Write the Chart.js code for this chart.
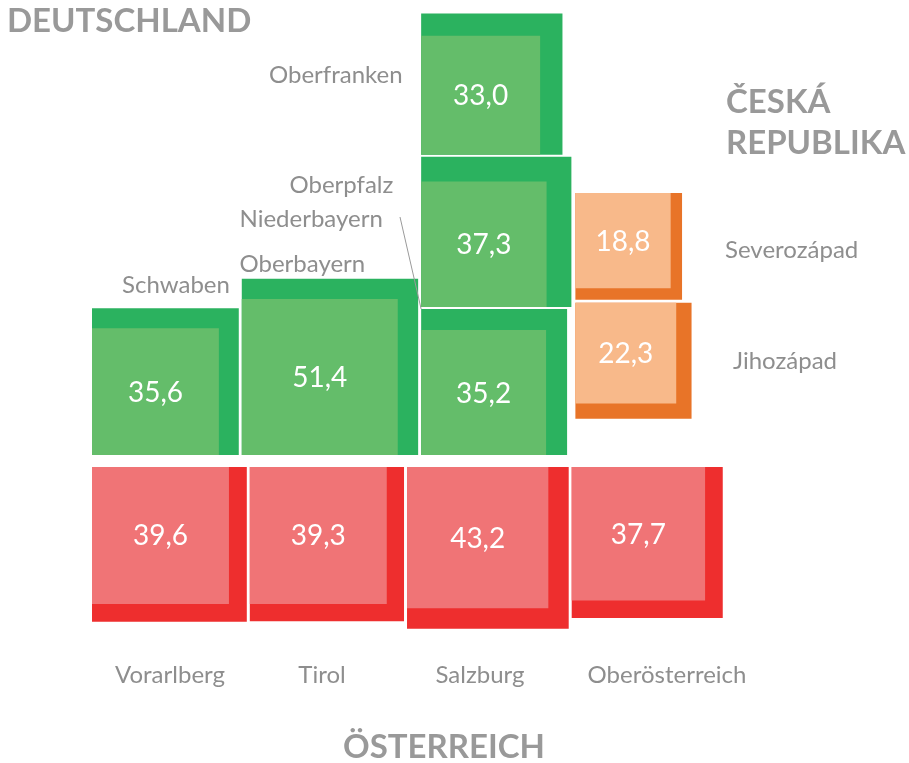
<!DOCTYPE html>
<html>
<head>
<meta charset="utf-8">
<script src="https://cdn.jsdelivr.net/npm/chart.js@4"></script>
<style>
  html, body { margin: 0; padding: 0; background: #fff; }
  canvas { display: block; }
</style>
</head>
<body>
<canvas id="tiles" width="909" height="763"></canvas>
<script>
(() => {
  // data
  const regions = ["Oberfranken", "Oberpfalz", "Niederbayern", "Oberbayern", "Schwaben",
                   "Severozápad", "Jihozápad",
                   "Vorarlberg", "Tirol", "Salzburg", "Oberösterreich"];
  const values = [33.0, 37.3, 35.2, 51.4, 35.6, 18.8, 22.3, 39.6, 39.3, 43.2, 37.7];
  // lighter inner square (estimated)
  const innerValues = [23.4, 26.0, 25.8, 40.2, 26.6, 15.0, 16.8, 31.0, 31.0, 33.0, 29.4];
  const countries = ["DE", "DE", "DE", "DE", "DE", "CZ", "CZ", "AT", "AT", "AT", "AT"];

  const colors = {
    DE: { outer: "#2bb25f", inner: "#64bd6a" },
    CZ: { outer: "#e87428", inner: "#f8b98a" },
    AT: { outer: "#ee2e2e", inner: "#f07476" },
  };

  // layout: one axis unit = sqrt of value, so tile area follows the value
  const PX = 24.6;
  const u = (px) => px / PX;
  const side = (n) => Math.sqrt(values[regions.indexOf(n)]);
  const pos = {};

  // Austria: one row, tops aligned
  let x = u(92);
  ["Vorarlberg", "Tirol", "Salzburg", "Oberösterreich"].forEach((n) => {
    pos[n] = { x, y: u(467) };
    x += side(n) + u(3);
  });
  // Bavaria: one row, bottoms aligned
  x = u(92);
  ["Schwaben", "Oberbayern", "Niederbayern"].forEach((n) => {
    pos[n] = { x, y: u(455) - side(n) };
    x += side(n) + u(3);
  });
  // stacked above Niederbayern
  let y = pos.Niederbayern.y;
  ["Oberpfalz", "Oberfranken"].forEach((n) => {
    y -= side(n) + u(2);
    pos[n] = { x: pos.Niederbayern.x, y };
  });
  // Czech column next to Oberpfalz
  x = pos.Oberpfalz.x + side("Oberpfalz") + u(4);
  y = u(193);
  ["Severozápad", "Jihozápad"].forEach((n) => {
    pos[n] = { x, y };
    y += side(n) + u(3);
  });

  const outerPts = regions.map((n, i) => {
    const s = Math.sqrt(values[i]);
    return { x: pos[n].x + s / 2, y: pos[n].y + s / 2 };
  });
  // green: inner sits bottom-left, red/orange: top-left
  const innerPts = regions.map((n, i) => {
    const s = Math.sqrt(values[i]);
    const si = Math.sqrt(innerValues[i]);
    const cy = countries[i] === "DE" ? pos[n].y + s - si / 2 : pos[n].y + si / 2;
    return { x: pos[n].x + si / 2, y: cy };
  });

  const radiusFor = (arr) => (ctx) => {
    const sx = ctx.chart.scales.x;
    const s = Math.sqrt(arr[ctx.dataIndex]);
    return (sx.getPixelForValue(s) - sx.getPixelForValue(0)) / Math.SQRT2;
  };

  // text positions (px): x, baseline, align
  const labelSpots = {
    Oberfranken: [269, 82.7, "left"],
    Oberpfalz: [289.5, 193.3, "left"],
    Niederbayern: [239.5, 226.7, "left"],
    Oberbayern: [239.5, 271.5, "left"],
    Schwaben: [122, 293.3, "left"],
    "Severozápad": [725, 258.3, "left"],
    "Jihozápad": [733, 369, "left"],
    Vorarlberg: [170, 683, "center"],
    Tirol: [322, 683, "center"],
    Salzburg: [480, 683, "center"],
    "Oberösterreich": [667, 683, "center"],
  };
  const titles = [
    ["DEUTSCHLAND", 7, 32, "left"],
    ["ČESKÁ", 726, 112.7, "left"],
    ["REPUBLIKA", 726, 154.3, "left"],
    ["ÖSTERREICH", 444, 758, "center"],
  ];

  const textPlugin = {
    id: "tileText",
    afterDatasetsDraw: (chart) => {
      const ctx = chart.ctx;
      const sx = chart.scales.x, sy = chart.scales.y;
      ctx.save();

      // values inside the tiles
      ctx.fillStyle = "#ffffff";
      ctx.font = "28px Lato";
      ctx.textAlign = "center";
      ctx.textBaseline = "alphabetic";
      innerPts.forEach((p, i) => {
        const txt = values[i].toFixed(1).replace(".", ",");
        ctx.fillText(txt, sx.getPixelForValue(p.x), sy.getPixelForValue(p.y) + 10);
      });

      // region names
      ctx.fillStyle = "#8e8e8e";
      ctx.font = "24px Lato";
      regions.forEach((n) => {
        const [lx, ly, al] = labelSpots[n];
        ctx.textAlign = al;
        ctx.fillText(n, lx, ly);
      });

      // leader line Niederbayern
      const nb = pos.Niederbayern;
      ctx.strokeStyle = "#9a9a9a";
      ctx.lineWidth = 1;
      ctx.beginPath();
      ctx.moveTo(400, 217);
      ctx.lineTo(sx.getPixelForValue(nb.x), sy.getPixelForValue(nb.y));
      ctx.stroke();

      // country names
      ctx.fillStyle = "#999999";
      ctx.font = "bold 33px Lato";
      titles.forEach(([t, tx, ty, al]) => {
        ctx.textAlign = al;
        ctx.fillText(t, tx, ty);
      });
      ctx.restore();
    },
  };

  new Chart(document.getElementById("tiles").getContext("2d"), {
    type: "scatter",
    data: {
      datasets: [
        {
          label: "inner",
          data: innerPts,
          pointStyle: "rect",
          backgroundColor: countries.map((c) => colors[c].inner),
          borderWidth: 0,
          pointRadius: radiusFor(innerValues),
        },
        {
          label: "outer",
          data: outerPts,
          pointStyle: "rect",
          backgroundColor: countries.map((c) => colors[c].outer),
          borderWidth: 0,
          pointRadius: radiusFor(values),
        },
      ],
    },
    options: {
      responsive: false,
      animation: false,
      events: [],
      layout: { padding: 0 },
      plugins: {
        legend: { display: false },
        tooltip: { enabled: false },
      },
      scales: {
        x: { type: "linear", display: false, min: 0, max: 909 / PX },
        y: { type: "linear", display: false, min: 0, max: 763 / PX, reverse: true },
      },
    },
    plugins: [textPlugin],
  });
})();
</script>
</body>
</html>
